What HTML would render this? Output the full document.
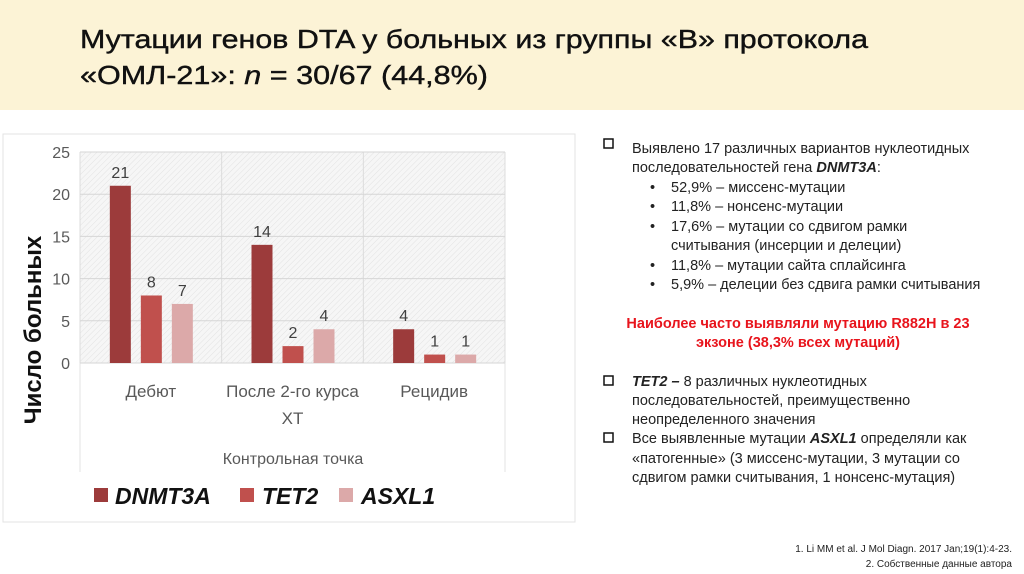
<!DOCTYPE html>
<html><head><meta charset="utf-8"><style>
body{margin:0;background:#fff;}
svg{display:block;font-family:"Liberation Sans",sans-serif;}
</style></head><body>
<svg width="1024" height="574" viewBox="0 0 1024 574">
<rect x="0" y="0" width="1024" height="110" fill="#fcf3d6"/>
<text x="80" y="48" font-size="26" fill="#111" stroke="#111" stroke-width="0.4" textLength="788" lengthAdjust="spacingAndGlyphs">Мутации генов DTA у больных из группы «В» протокола</text>
<text x="80" y="84" font-size="26" fill="#111" stroke="#111" stroke-width="0.4" textLength="408" lengthAdjust="spacingAndGlyphs">«ОМЛ-21»: <tspan font-style="italic">n</tspan> = 30/67 (44,8%)</text>

<rect x="3" y="134" width="572" height="388" fill="#fff" stroke="#e3e3e3"/>
<defs><pattern id="hatch" width="4" height="4" patternUnits="userSpaceOnUse" patternTransform="rotate(45)"><rect width="4" height="4" fill="#f6f6f6"/><line x1="0" y1="0" x2="0" y2="4" stroke="#e2e2e2" stroke-width="1"/></pattern></defs>
<g id="chart"></g>
<text transform="translate(41,330) rotate(-90)" font-size="24" font-weight="bold" text-anchor="middle" fill="#111">Число больных</text>
<text x="293" y="464" font-size="16" fill="#595959" text-anchor="middle">Контрольная точка</text>
<g>
<rect x="94" y="488" width="14" height="14" fill="#9c3b3b"/>
<text x="115" y="504" font-size="23" font-weight="bold" font-style="italic" fill="#111">DNMT3A</text>
<rect x="240" y="488" width="14" height="14" fill="#c0504d"/>
<text x="262" y="504" font-size="23" font-weight="bold" font-style="italic" fill="#111">TET2</text>
<rect x="339" y="488" width="14" height="14" fill="#dca9a9"/>
<text x="361" y="504" font-size="23" font-weight="bold" font-style="italic" fill="#111">ASXL1</text>
</g>

<g font-size="14.5" fill="#222">
<rect x="604" y="139" width="9" height="9" fill="none" stroke="#111" stroke-width="1.5"/>
<text x="632" y="153">Выявлено 17 различных вариантов нуклеотидных</text>
<text x="632" y="172">последовательностей гена <tspan font-weight="bold" font-style="italic">DNMT3A</tspan>:</text>
<text x="650" y="192">•</text><text x="671" y="192">52,9% – миссенс-мутации</text>
<text x="650" y="211">•</text><text x="671" y="211">11,8% – нонсенс-мутации</text>
<text x="650" y="231">•</text><text x="671" y="231">17,6% – мутации со сдвигом рамки</text>
<text x="671" y="250">считывания (инсерции и делеции)</text>
<text x="650" y="270">•</text><text x="671" y="270">11,8% – мутации сайта сплайсинга</text>
<text x="650" y="289">•</text><text x="671" y="289">5,9% – делеции без сдвига рамки считывания</text>
<text x="798" y="328" fill="#e8141c" font-weight="bold" text-anchor="middle">Наиболее часто выявляли мутацию R882H в 23</text>
<text x="798" y="347" fill="#e8141c" font-weight="bold" text-anchor="middle">экзоне (38,3% всех мутаций)</text>
<rect x="604" y="376" width="9" height="9" fill="none" stroke="#111" stroke-width="1.5"/>
<text x="632" y="386"><tspan font-weight="bold" font-style="italic">TET2 –</tspan> 8 различных нуклеотидных</text>
<text x="632" y="405">последовательностей, преимущественно</text>
<text x="632" y="424">неопределенного значения</text>
<rect x="604" y="433" width="9" height="9" fill="none" stroke="#111" stroke-width="1.5"/>
<text x="632" y="443">Все выявленные мутации <tspan font-weight="bold" font-style="italic">ASXL1</tspan> определяли как</text>
<text x="632" y="463">«патогенные» (3 миссенс-мутации, 3 мутации со</text>
<text x="632" y="482">сдвигом рамки считывания, 1 нонсенс-мутация)</text>
</g>
<g font-size="10" fill="#222" text-anchor="end">
<text x="1012" y="552">1.  Li MM et al. J Mol Diagn. 2017 Jan;19(1):4-23.</text>
<text x="1012" y="567">2.  Собственные данные автора</text>
</g>
</svg>
<script>
const categories = [["Дебют"], ["После 2-го курса", "ХТ"], ["Рецидив"]];
const seriesNames = ["DNMT3A", "TET2", "ASXL1"];
const dnmt3a = [21, 14, 4];
const tet2 = [8, 2, 1];
const asxl1 = [7, 4, 1];
const yTicks = [0, 5, 10, 15, 20, 25];

const NS = "http://www.w3.org/2000/svg";
const g = document.getElementById("chart");
const L = 80, R = 505, T = 152, B = 363, yMax = 25;
const y = v => B - v / yMax * (B - T);
const gw = (R - L) / categories.length;
const colors = ["#9c3b3b", "#c0504d", "#dca9a9"];
const series = [dnmt3a, tet2, asxl1];
function mk(tag, attrs) { const e = document.createElementNS(NS, tag); for (const k in attrs) e.setAttribute(k, attrs[k]); g.appendChild(e); return e; }

const bg = mk("rect", {x: L, y: T, width: R - L, height: B - T, fill: "url(#hatch)"});


for (let i = 0; i <= categories.length; i++) {
  const vl = mk("line", {x1: L + i * gw, x2: L + i * gw, y1: T, y2: B, stroke: "#dcdcdc"});
  
  
}
mk("line", {x1: L, x2: L, y1: B, y2: 472, stroke: "#e3e3e3"});
mk("line", {x1: R, x2: R, y1: B, y2: 472, stroke: "#e3e3e3"});
yTicks.forEach(t => {
  const gl = mk("line", {x1: L, x2: R, y1: y(t), y2: y(t), stroke: "#d6d6d6"});
  
  
  const tl = mk("text", {x: 70, y: y(t) + 6, "font-size": 16, fill: "#595959", "text-anchor": "end"});
  tl.textContent = t;
  
  
});
categories.forEach((c, i) => {
  const cx = L + gw * (i + 0.5);
  series.forEach((s, j) => {
    const bx = cx - 41 + j * 31;
    const r = mk("rect", {x: bx, y: y(s[i]), width: 21, height: B - y(s[i]), fill: colors[j]});
    
    
    const lb = mk("text", {x: bx + 10.5, y: y(s[i]) - 8, "font-size": 16, fill: "#404040", "text-anchor": "middle"});
    lb.textContent = s[i];
    
    
  });
  c.forEach((line, k) => {
    const ct = mk("text", {x: cx, y: 397 + k * 27, "font-size": 17, fill: "#595959", "text-anchor": "middle"});
    ct.textContent = line;
    
    
  });
});
</script>
</body></html>
